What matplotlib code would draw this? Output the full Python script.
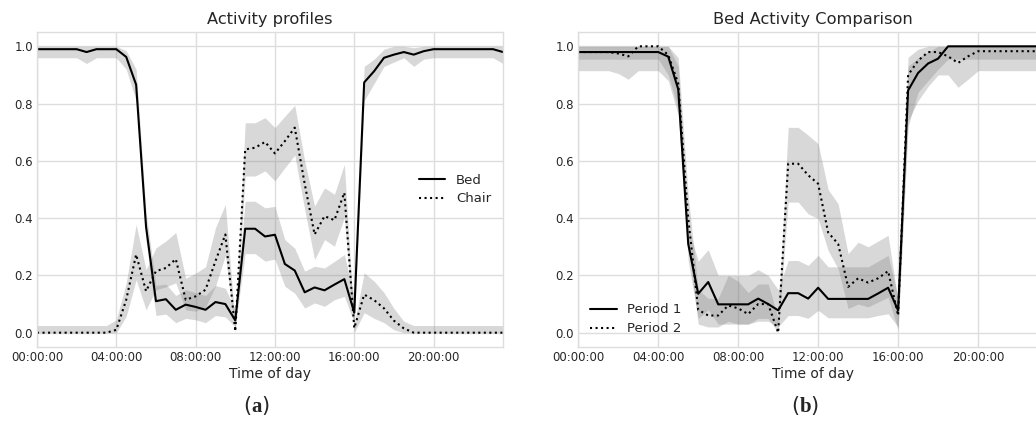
import numpy as np
import matplotlib
matplotlib.use("Agg")
import matplotlib.pyplot as plt

# half-hour time grid (hours of the day)
hours = np.arange(0, 24, 0.5)
tick_hours = [0, 4, 8, 12, 16, 20]
tick_labels = ["00:00:00", "04:00:00", "08:00:00", "12:00:00", "16:00:00", "20:00:00"]

# (a) activity profiles: bed and chair, mean with band
bed_mean = [0.99, 0.99, 0.99, 0.99, 0.99, 0.98, 0.99, 0.99,
            0.99, 0.963, 0.866, 0.37, 0.11, 0.117, 0.08, 0.098,
            0.09, 0.08, 0.107, 0.10, 0.043, 0.363, 0.363, 0.336,
            0.342, 0.24, 0.217, 0.141, 0.158, 0.148, 0.168, 0.187,
            0.07, 0.874, 0.913, 0.96, 0.971, 0.98, 0.971, 0.983,
            0.99, 0.99, 0.99, 0.99, 0.99, 0.99, 0.99, 0.98]
bed_lo = [0.96, 0.96, 0.96, 0.96, 0.96, 0.94, 0.96, 0.96,
          0.96, 0.92, 0.81, 0.32, 0.06, 0.065, 0.035, 0.05,
          0.045, 0.035, 0.06, 0.055, 0.02, 0.276, 0.276, 0.25,
          0.257, 0.162, 0.138, 0.086, 0.104, 0.092, 0.115, 0.127,
          0.034, 0.81, 0.87, 0.93, 0.945, 0.96, 0.93, 0.955,
          0.96, 0.96, 0.96, 0.96, 0.96, 0.96, 0.96, 0.94]
bed_hi = [1.0, 1.0, 1.0, 1.0, 1.0, 1.0, 1.0, 1.0,
          1.0, 0.985, 0.92, 0.42, 0.165, 0.17, 0.13, 0.15,
          0.14, 0.13, 0.165, 0.155, 0.08, 0.459, 0.459, 0.436,
          0.441, 0.325, 0.295, 0.215, 0.232, 0.226, 0.249, 0.273,
          0.125, 0.93, 0.955, 0.99, 1.0, 1.0, 0.995, 1.0,
          1.0, 1.0, 1.0, 1.0, 1.0, 1.0, 1.0, 1.0]

chair_mean = [0, 0, 0, 0, 0, 0, 0, 0,
              0.01, 0.115, 0.273, 0.145, 0.215, 0.226, 0.257, 0.115,
              0.127, 0.15, 0.25, 0.343, 0.005, 0.64, 0.646, 0.666,
              0.626, 0.669, 0.716, 0.52, 0.343, 0.407, 0.393, 0.489,
              0.016, 0.133, 0.114, 0.085, 0.042, 0.015, 0, 0,
              0, 0, 0, 0, 0, 0, 0, 0]
chair_lo = [0, 0, 0, 0, 0, 0, 0, 0,
            0, 0.057, 0.185, 0.08, 0.15, 0.16, 0.174, 0.08,
            0.075, 0.09, 0.162, 0.27, 0.0, 0.547, 0.547, 0.565,
            0.53, 0.576, 0.62, 0.43, 0.255, 0.325, 0.302, 0.402,
            0.0, 0.07, 0.05, 0.035, 0.01, 0, 0, 0,
            0, 0, 0, 0, 0, 0, 0, 0]
chair_hi = [0.025, 0.025, 0.025, 0.025, 0.025, 0.025, 0.025, 0.025,
            0.045, 0.174, 0.378, 0.22, 0.296, 0.32, 0.35, 0.19,
            0.208, 0.23, 0.366, 0.448, 0.03, 0.733, 0.733, 0.751,
            0.716, 0.756, 0.794, 0.60, 0.442, 0.506, 0.483, 0.588,
            0.03, 0.209, 0.18, 0.14, 0.085, 0.04, 0.025, 0.025,
            0.025, 0.025, 0.025, 0.025, 0.025, 0.025, 0.025, 0.025]

# (b) bed activity, period 1 vs period 2
p1_mean = [0.98, 0.98, 0.98, 0.98, 0.98, 0.98, 0.98, 0.98,
           0.98, 0.964, 0.85, 0.31, 0.136, 0.177, 0.099, 0.099,
           0.099, 0.099, 0.119, 0.10, 0.078, 0.138, 0.138, 0.119,
           0.157, 0.118, 0.118, 0.118, 0.118, 0.118, 0.137, 0.157,
           0.078, 0.846, 0.907, 0.94, 0.957, 1.0, 1.0, 1.0,
           1.0, 1.0, 1.0, 1.0, 1.0, 1.0, 1.0, 1.0]
p1_lo = [0.955, 0.955, 0.955, 0.955, 0.955, 0.955, 0.955, 0.955,
         0.955, 0.9, 0.78, 0.25, 0.05, 0.08, 0.03, 0.03,
         0.03, 0.03, 0.04, 0.04, 0.02, 0.06, 0.06, 0.05,
         0.078, 0.052, 0.052, 0.052, 0.052, 0.052, 0.06, 0.066,
         0.02, 0.72, 0.84, 0.88, 0.92, 0.955, 0.955, 0.955,
         0.955, 0.955, 0.955, 0.955, 0.955, 0.955, 0.955, 0.955]
p1_hi = [1.0, 1.0, 1.0, 1.0, 1.0, 1.0, 1.0, 1.0,
         1.0, 1.0, 0.93, 0.37, 0.25, 0.29, 0.2, 0.2,
         0.2, 0.2, 0.22, 0.2, 0.15, 0.252, 0.252, 0.235,
         0.27, 0.23, 0.23, 0.23, 0.23, 0.23, 0.25, 0.27,
         0.124, 0.93, 0.96, 0.98, 1.0, 1.0, 1.0, 1.0,
         1.0, 1.0, 1.0, 1.0, 1.0, 1.0, 1.0, 1.0]

p2_mean = [0.98, 0.98, 0.98, 0.98, 0.975, 0.965, 1.0, 1.0,
           1.0, 0.97, 0.87, 0.40, 0.08, 0.06, 0.06, 0.095,
           0.085, 0.065, 0.10, 0.10, 0.0, 0.59, 0.59, 0.55,
           0.52, 0.35, 0.31, 0.16, 0.19, 0.175, 0.19, 0.215,
           0.06, 0.90, 0.95, 0.98, 0.98, 0.965, 0.942, 0.965,
           0.983, 0.983, 0.983, 0.983, 0.983, 0.983, 0.983, 0.983]
p2_lo = [0.915, 0.915, 0.915, 0.915, 0.905, 0.885, 0.915, 0.915,
         0.915, 0.88, 0.76, 0.3, 0.03, 0.02, 0.02, 0.04,
         0.03, 0.03, 0.05, 0.05, 0.0, 0.456, 0.456, 0.415,
         0.398, 0.287, 0.223, 0.084, 0.10, 0.09, 0.107, 0.124,
         0.01, 0.74, 0.81, 0.86, 0.90, 0.90, 0.857, 0.885,
         0.915, 0.915, 0.915, 0.915, 0.915, 0.915, 0.915, 0.915]
p2_hi = [1.0, 1.0, 1.0, 1.0, 1.0, 1.0, 1.0, 1.0,
         1.0, 1.0, 0.96, 0.48, 0.15, 0.12, 0.12, 0.2,
         0.18, 0.14, 0.17, 0.17, 0.05, 0.717, 0.717, 0.69,
         0.66, 0.50, 0.45, 0.276, 0.316, 0.30, 0.32, 0.34,
         0.11, 0.962, 0.99, 1.0, 1.0, 1.0, 1.0, 1.0,
         1.0, 1.0, 1.0, 1.0, 1.0, 1.0, 1.0, 1.0]

plt.style.use("seaborn-v0_8-whitegrid")
plt.rcParams["font.family"] = ["DejaVu Sans"]
plt.rcParams["mathtext.fontset"] = "custom"
plt.rcParams["mathtext.rm"] = "Liberation Serif"
plt.rcParams["mathtext.bf"] = "Liberation Serif:bold"

fig = plt.figure(figsize=(10.36, 4.25), dpi=100)
ax1 = fig.add_axes([0.0357, 0.1835, 0.4498, 0.7412])
ax2 = fig.add_axes([0.5582, 0.1835, 0.4534, 0.7412])

band = dict(color="grey", alpha=0.3, linewidth=0)

ax1.fill_between(hours, bed_lo, bed_hi, **band)
ax1.fill_between(hours, chair_lo, chair_hi, **band)
ax1.plot(hours, bed_mean, color="black", linewidth=1.5, label="Bed")
ax1.plot(hours, chair_mean, color="black", linewidth=1.5, linestyle=":", label="Chair")
ax1.set_title("Activity profiles", fontsize=11.7, color="#262626")
ax1.legend(loc="center right", bbox_to_anchor=(1.0, 0.5), frameon=False, fontsize=9.5,
           labelspacing=0.45)

ax2.fill_between(hours, p1_lo, p1_hi, **band)
ax2.fill_between(hours, p2_lo, p2_hi, **band)
ax2.plot(hours, p1_mean, color="black", linewidth=1.5, label="Period 1")
ax2.plot(hours, p2_mean, color="black", linewidth=1.5, linestyle=":", label="Period 2")
ax2.set_title("Bed Activity Comparison", fontsize=11.7, color="#262626")
ax2.legend(loc="lower left", frameon=False, fontsize=9.5, labelspacing=0.45)

for ax in (ax1, ax2):
    ax.set_xlim(0, 23.5)
    ax.set_ylim(-0.05, 1.05)
    ax.set_xticks(tick_hours)
    ax.set_xticklabels(tick_labels)
    ax.set_yticks([0.0, 0.2, 0.4, 0.6, 0.8, 1.0])
    ax.tick_params(labelsize=8.5, colors="#262626", pad=3)
    ax.set_xlabel("Time of day", fontsize=10, color="#262626", labelpad=2)
    ax.grid(color="#dddddd", linewidth=1)
    for s in ax.spines.values():
        s.set_color("#dddddd")

fig.text(0.248, 0.045, r"($\mathbf{a}$)", fontsize=15, ha="center", va="center")
fig.text(0.777, 0.045, r"($\mathbf{b}$)", fontsize=15, ha="center", va="center")

fig.savefig("out.png", dpi=100)
